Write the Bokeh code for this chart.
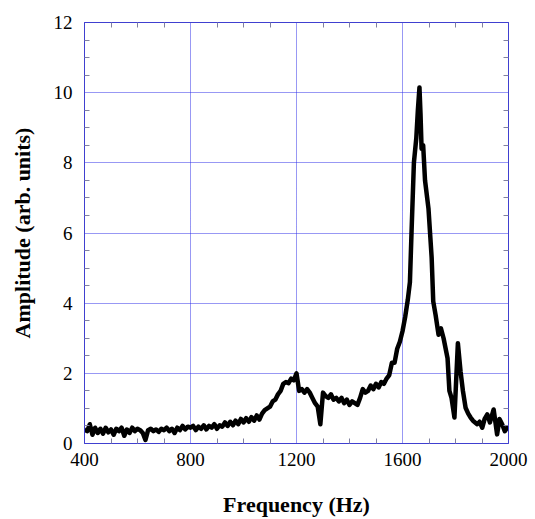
from bokeh.plotting import figure
from bokeh.models import Range1d, FixedTicker, LinearAxis, ColumnDataSource, CustomLabelingPolicy
from bokeh.embed import file_html
from bokeh.resources import INLINE

freq = [400, 410, 420, 430, 440, 450, 460, 470, 480, 490, 500, 510, 520, 530, 540, 550, 560, 570, 580, 590,
        600, 610, 620, 630, 640, 650, 660, 670, 680, 690, 700, 710, 720, 730, 740, 750, 760, 770, 780, 790,
        800, 810, 820, 830, 840, 850, 860, 870, 880, 890, 900, 910, 920, 930, 940, 950, 960, 970, 980, 990,
        1000, 1010, 1020, 1030, 1040, 1050, 1060, 1070, 1080, 1090, 1100, 1110, 1120, 1130, 1140, 1150, 1160, 1170, 1180, 1190,
        1200, 1210, 1220, 1230, 1240, 1250, 1260, 1270, 1280, 1290, 1300, 1310, 1320, 1330, 1340, 1350, 1360, 1370, 1380, 1390,
        1400, 1410, 1420, 1430, 1440, 1450, 1460, 1470, 1480, 1490, 1500, 1510, 1520, 1530, 1540, 1550, 1560, 1570, 1580, 1590,
        1600, 1610, 1620, 1628, 1634, 1643, 1652, 1658, 1664, 1668, 1672, 1678, 1685, 1698, 1710, 1716, 1725, 1736, 1745, 1755,
        1770, 1777, 1785, 1796, 1809, 1819, 1828, 1838, 1848, 1857, 1866, 1874, 1882, 1891, 1901, 1910, 1920, 1930, 1944, 1957,
        1966, 1976, 1986, 1995, 2000]
amp = [0.40, 0.35, 0.55, 0.25, 0.45, 0.30, 0.42, 0.28, 0.45, 0.32, 0.40, 0.25, 0.42, 0.35, 0.45, 0.22, 0.40, 0.30, 0.45, 0.35,
       0.42, 0.38, 0.30, 0.10, 0.38, 0.42, 0.35, 0.40, 0.33, 0.42, 0.38, 0.45, 0.35, 0.42, 0.30, 0.45, 0.38, 0.50, 0.40, 0.48,
       0.45, 0.50, 0.38, 0.48, 0.42, 0.52, 0.40, 0.50, 0.45, 0.55, 0.42, 0.52, 0.48, 0.60, 0.50, 0.62, 0.52, 0.65, 0.55, 0.70,
       0.60, 0.72, 0.62, 0.75, 0.65, 0.80, 0.68, 0.85, 0.95, 1.00, 1.05, 1.20, 1.25, 1.40, 1.50, 1.70, 1.75, 1.72, 1.85, 1.80,
       2.00, 1.50, 1.55, 1.45, 1.55, 1.45, 1.30, 1.15, 1.05, 0.55, 1.45, 1.35, 1.30, 1.40, 1.25, 1.30, 1.20, 1.30, 1.15, 1.25,
       1.10, 1.20, 1.15, 1.10, 1.30, 1.55, 1.45, 1.50, 1.65, 1.55, 1.70, 1.60, 1.75, 1.70, 1.85, 1.95, 2.30, 2.30, 2.70, 2.90,
       3.20, 3.60, 4.10, 4.60, 6.00, 8.00, 8.70, 9.50, 10.15, 9.40, 8.40, 8.50, 7.50, 6.70, 5.30, 4.05, 3.66, 3.10, 3.28, 3.00,
       2.43, 1.50, 1.30, 0.74, 2.86, 2.06, 1.50, 1.02, 0.85, 0.74, 0.65, 0.60, 0.55, 0.62, 0.45, 0.70, 0.83, 0.60, 0.97, 0.26,
       0.70, 0.55, 0.35, 0.45, 0.40]

x_major = [400, 800, 1200, 1600, 2000]
x_minor = [500, 600, 700, 900, 1000, 1100, 1300, 1400, 1500, 1700, 1800, 1900]
y_major = [0, 2, 4, 6, 8, 10, 12]
y_minor = [0.5, 1, 1.5, 2.5, 3, 3.5, 4.5, 5, 5.5, 6.5, 7, 7.5, 8.5, 9, 9.5, 10.5, 11, 11.5]

src = ColumnDataSource(dict(freq=freq, amp=amp))

p = figure(width=535, height=519, output_backend="svg", toolbar_location=None,
           x_range=Range1d(400, 2000), y_range=Range1d(0, 12),
           min_border_left=84, min_border_right=27, min_border_top=22, min_border_bottom=73,
           background_fill_color="white", border_fill_color="white")

blue = "#4040d0"
p.outline_line_color = blue
p.outline_line_width = 1

for g in (p.xgrid, p.ygrid):
    g.grid_line_color = "#3030e8"
    g.grid_line_dash = "1 1"
    g.grid_line_width = 1
    g.grid_line_alpha = 1.0
p.xgrid.ticker = FixedTicker(ticks=x_major)
p.ygrid.ticker = FixedTicker(ticks=y_major)

def style_axis(ax, ticks, minor):
    ax.ticker = FixedTicker(ticks=ticks, minor_ticks=minor)
    ax.axis_line_color = blue
    ax.major_tick_line_color = blue
    ax.minor_tick_line_color = "#8080a0"
    ax.major_tick_in = 0
    ax.major_tick_out = 0
    ax.minor_tick_in = 5
    ax.minor_tick_out = 0
    ax.major_label_text_font = "Liberation Serif"
    ax.major_label_text_font_size = "19px"
    ax.major_label_text_color = "black"
    ax.axis_label_text_font = "Liberation Serif"
    ax.axis_label_text_font_style = "bold"
    ax.axis_label_text_font_size = "22px"
    ax.axis_label_text_color = "black"

style_axis(p.xaxis[0], x_major, x_minor)
style_axis(p.yaxis[0], y_major, y_minor)
p.xaxis[0].axis_label = "Frequency (Hz)"
p.yaxis[0].axis_label = "Amplitude (arb. units)"
p.xaxis[0].major_label_standoff = 9
p.yaxis[0].major_label_standoff = 12
p.xaxis[0].axis_label_standoff = 23
p.yaxis[0].axis_label_standoff = 16

top = LinearAxis(major_label_policy=CustomLabelingPolicy(code="""
for (const i of indices) { indices.unset(i) }
return indices
"""))
style_axis(top, x_major, x_minor)
top.major_label_standoff = 0
p.add_layout(top, "above")
right = LinearAxis(major_label_policy=CustomLabelingPolicy(code="""
for (const i of indices) { indices.unset(i) }
return indices
"""))
style_axis(right, y_major, y_minor)
right.major_label_standoff = 0
p.add_layout(right, "right")

p.line("freq", "amp", source=src, line_color="black", line_width=4.5, line_join="round")

open("out.html", "w").write(file_html(p, INLINE))
